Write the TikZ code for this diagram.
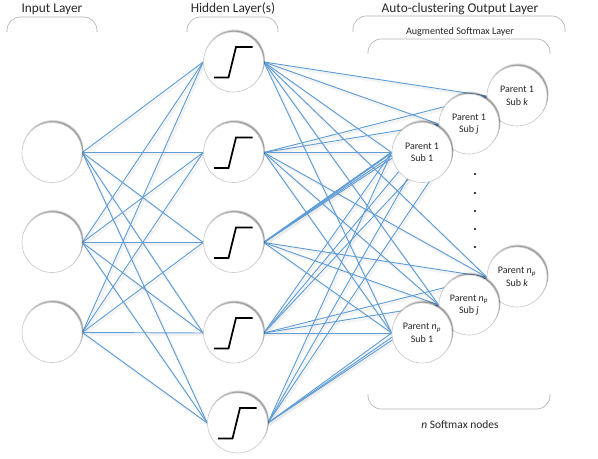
\documentclass[tikz,border=0pt]{standalone}
\usepackage{fontspec}
\setmainfont{Carlito}
\pgfdeclarelayer{edges}
\pgfsetlayers{edges,main}
\definecolor{linkblue}{HTML}{5F9DD6}
\tikzset{
  bubble/.style={circle,draw=black!20,line width=.5pt,fill=white,minimum size=45pt,inner sep=0pt,align=center,font=\fontsize{7.5}{9.3}\selectfont,text=black!85},
  link/.style={draw=linkblue,line width=.7pt},
  thicklink/.style={draw=linkblue,line width=1.3pt},
  linkshade/.style={draw=black!10,line width=1.8pt,opacity=.45},
  brace/.style={draw=black!30,line width=.5pt,rounded corners=10pt},
  title/.style={font=\fontsize{10}{12}\selectfont,text=black!85,inner sep=0pt},
  subtitle/.style={font=\fontsize{7.6}{9}\selectfont,text=black!85,inner sep=0pt},
  step curve/.style={draw=black,line width=1.3pt},
  dotnode/.style={circle,fill=black,inner sep=0pt,minimum size=1.8pt}
}
\newcommand{\bub}[4]{%
  \foreach \rr/\oo/\dy in {30.6/.10/2.0,30.3/.14/1.6,30.0/.22/1.2}{\fill[black,opacity=\oo] (#2+1.0,#3-\dy) circle[radius=\rr*.75pt];}
  \node[bubble] (#1) at (#2,#3) {#4};}
\newcommand{\stepicon}[1]{\draw[step curve] ([shift={(-19.5,15.5)}]#1.center) -- ([shift={(-5,15.5)}]#1.center) -- ([shift={(2.5,-15)}]#1.center) -- ([shift={(19,-15)}]#1.center);}
\begin{document}
\begin{tikzpicture}[x=.75pt,y=-.75pt]
\useasboundingbox (0,0) rectangle (598,459);
% input
\bub{i1}{52}{152.5}{}
\bub{i2}{52}{242.5}{}
\bub{i3}{52}{332.5}{}
% hidden
\bub{h1}{233.5}{62}{}
\bub{h2}{233.5}{152.5}{}
\bub{h3}{233.5}{242.5}{}
\bub{h4}{233.5}{333}{}
\bub{h5}{237.5}{423}{}
\foreach \n in {h1,h2,h3,h4,h5}{\stepicon{\n}}
% output
\bub{ak}{517}{96}{Parent 1\\Sub \emph{k}}
\bub{aj}{469}{124}{Parent 1\\Sub \emph{j}}
\bub{a1}{422}{152.5}{Parent 1\\Sub 1}
\bub{bk}{517}{277}{Parent \emph{n}\textsubscript{\emph{p}}\\Sub \emph{k}}
\bub{bj}{469}{305}{Parent \emph{n}\textsubscript{\emph{p}}\\Sub \emph{j}}
\bub{b1}{422}{333}{Parent \emph{n}\textsubscript{\emph{p}}\\Sub 1}
% connectors
\begin{pgfonlayer}{edges}
\foreach \a in {i1,i2,i3}\foreach \b in {h1,h2,h3,h4,h5}{\draw[linkshade] ([shift={(1.5,2)}]\a.east) -- ([shift={(1.5,2)}]\b.west);}
\foreach \a in {h1,h2,h3,h4,h5}\foreach \b in {ak,aj,a1,bk,bj,b1}{\draw[linkshade] ([shift={(1.5,2)}]\a.east) -- ([shift={(1.5,2)}]\b.west);}
\foreach \a in {i1,i2,i3}\foreach \b in {h1,h2,h3,h4,h5}{\draw[link] (\a.east) -- (\b.west);}
\foreach \a in {h1,h2,h3,h4,h5}\foreach \b in {ak,aj,a1,bk,bj,b1}{\draw[link] (\a.east) -- (\b.west);}
\draw[thicklink] (h3.east) -- (a1.west);
\end{pgfonlayer}
% braces
\draw[brace] (7,32) -- (7,17) -- (97,17) -- (97,32);
\draw[brace] (187,32) -- (187,17) -- (278,17) -- (278,32);
\draw[brace] (353,32) -- (353,16) -- (565,16) -- (565,32);
\draw[brace] (368,54) -- (368,39) -- (550,39) -- (550,54);
\draw[brace] (368,394) -- (368,409) -- (550,409) -- (550,394);
% titles
\node[title] (t1) at (52,9) {Input Layer};
\node[title] (t2) at (233,9) {Hidden Layer(s)};
\node[title] (t3) at (460,9) {Auto-clustering Output Layer};
\node[subtitle] (t4) at (460,32) {Augmented Softmax Layer};
\node[title,font=\fontsize{8.6}{10}\selectfont] (t5) at (460,425) {\emph{n} Softmax nodes};
% dots
\foreach \y [count=\k] in {174,193,211,229,247}{\node[dotnode] (d\k) at (475,\y) {};}
\end{tikzpicture}
\end{document}
